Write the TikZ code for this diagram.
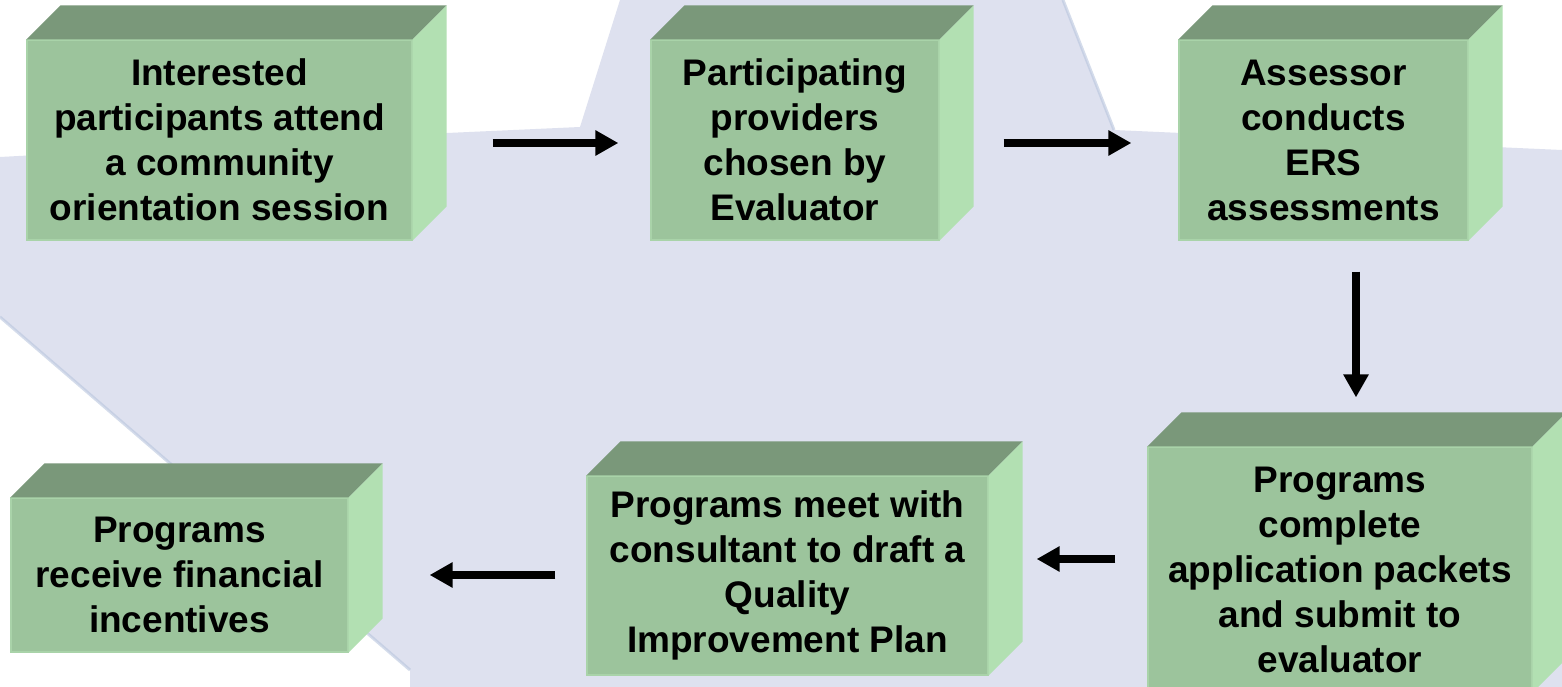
\documentclass[tikz,border=0pt]{standalone}
\usepackage{fontspec}
\setmainfont{Liberation Sans}
\usetikzlibrary{arrows.meta}
\definecolor{bgl}{HTML}{DEE1EF}
\definecolor{frontc}{HTML}{9CC49C}
\definecolor{topc}{HTML}{7A987A}
\definecolor{sidec}{HTML}{B2E0B2}
\definecolor{edgec}{HTML}{A9D3A9}
\definecolor{shadowc}{HTML}{B9C6DE}
\newcommand\cubefaces[1]{%
  \fill[topface] (#1.north west) -- ++(34,-34) -- ([shift={(34,-34)}]#1.north east) -- (#1.north east) -- cycle;
  \fill[sideface] (#1.north east) -- ++(34,-34) -- ([shift={(34,-34)}]#1.south east) -- (#1.south east) -- cycle;}
\begin{document}
\begin{tikzpicture}[x=1pt,y=-1pt,
  front/.style={fill=frontc, draw=edgec, line width=1.2pt, inner sep=0pt, align=center, text=black,
                font=\fontsize{37}{45}\selectfont\bfseries},
  topface/.style={fill=topc},
  sideface/.style={fill=sidec},
  arr/.style={line width=8pt, -{Triangle[length=23pt,width=24pt]}},
  bgshadow/.style={draw=shadowc, line width=3pt, opacity=0.6}]
\useasboundingbox (0,0) rectangle (1562,687);
\clip (0,0) rectangle (1562,687);
% background
\fill[white] (0,0) rectangle (1562,687);
\fill[bgl] (0,157) -- (447,133) -- (580,127) -- (620,0) -- (1063,0) -- (1114,130) -- (1562,150)
  -- (1562,687) -- (410,687) -- (410,670) -- (0,317) -- cycle;
\draw[bgshadow] (1063,0) -- (1114,130);
\draw[bgshadow] (0,317) -- (410,670);
% boxes
\node[front, minimum width=385pt, minimum height=200pt] (b1) at (219.5,140)
  {Interested\\participants attend\\a community\\orientation session};
\node[front, minimum width=288pt, minimum height=200pt] (b2) at (795,140)
  {Participating\\providers\\chosen by\\Evaluator};
\node[front, minimum width=289pt, minimum height=200pt] (b3) at (1323.5,140)
  {Assessor\\conducts\\ERS\\assessments};
\node[front, minimum width=384pt, minimum height=245pt] (b6) at (1340,569.5)
  {Programs\\complete\\application packets\\and submit to\\evaluator};
\node[front, minimum width=401pt, minimum height=199pt] (b5) at (787.5,575.5)
  {Programs meet with\\consultant to draft a\\Quality\\Improvement Plan};
\node[front, minimum width=337pt, minimum height=154pt] (b4) at (179.5,575)
  {Programs\\receive financial\\incentives};
\cubefaces{b1}
\cubefaces{b2}
\cubefaces{b3}
\cubefaces{b4}
\cubefaces{b5}
\cubefaces{b6}
% arrows
\draw[arr, shorten <=80pt, shorten >=32pt] ([yshift=-3pt]b1.east) -- ([yshift=-3pt]b2.west);
\draw[arr, shorten <=64pt, shorten >=47pt] ([yshift=-3pt]b2.east) -- ([yshift=-3pt]b3.west);
\draw[arr, shorten <=31pt, shorten >=49pt] ([xshift=32.5pt]b3.south) -- ([xshift=32.5pt]b3.south |- b6.north);
\draw[arr, shorten <=32pt, shorten >=48pt] ([yshift=10.5pt]b6.west) -- ([yshift=16.5pt]b5.east);
\draw[arr, shorten <=31pt, shorten >=81pt] ([yshift=0.5pt]b5.west) -- (b4.east);
\end{tikzpicture}
\end{document}
